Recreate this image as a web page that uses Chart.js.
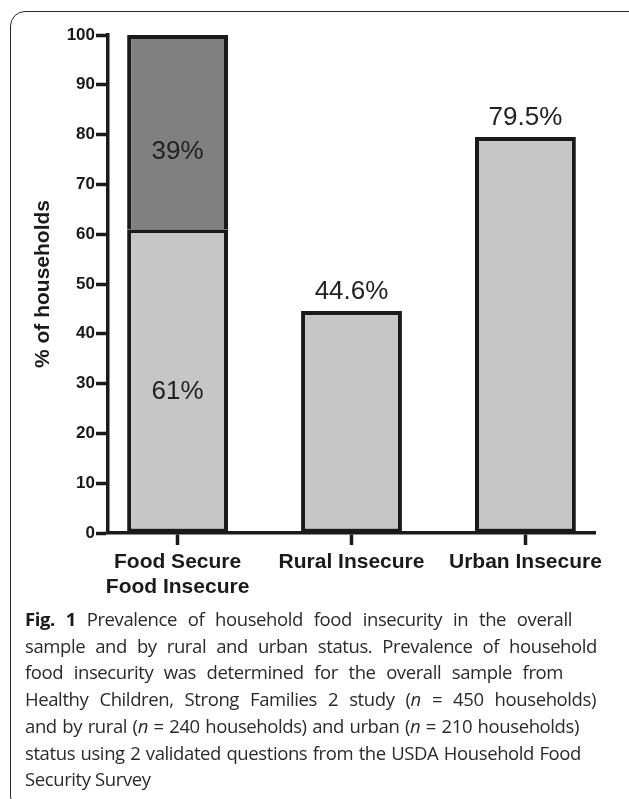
<!DOCTYPE html>
<html>
<head>
<meta charset="utf-8">
<script src="https://cdn.jsdelivr.net/npm/chart.js@4.4.1/dist/chart.umd.min.js"></script>
<style>
  html, body { margin: 0; padding: 0; background: #fff; overflow: hidden; }
  body { width: 629px; height: 799px; position: relative; }
  #frame {
    position: absolute; left: 10px; top: 11px; width: 640px; height: 800px;
    border: 1.5px solid #2a2a2a; border-radius: 15px; box-sizing: border-box;
  }
  #chart { position: absolute; left: 0; top: 0; }
  #caption {
    position: absolute; left: 25px; top: 606px;
    font-family: "Open Sans", "Noto Sans", sans-serif; font-size: 18.5px;
    letter-spacing: -0.4px;
    line-height: 26.7px; color: #2a2a2a;
  }
  #caption .line { white-space: nowrap; }
  #caption .line span.measure { display: inline-block; }
  #caption b { font-weight: 700; color: #1a1a1a; }
</style>
</head>
<body>
<div id="frame"></div>
<canvas id="chart" width="629" height="610"></canvas>
<div id="caption">
  <div class="line" data-right="572"><span class="measure"><b>Fig. 1</b> Prevalence of household food insecurity in the overall</span></div>
  <div class="line" data-right="597"><span class="measure">sample and by rural and urban status. Prevalence of household</span></div>
  <div class="line" data-right="563"><span class="measure">food insecurity was determined for the overall sample from</span></div>
  <div class="line" data-right="596"><span class="measure">Healthy Children, Strong Families 2 study (<i>n</i> = 450 households)</span></div>
  <div class="line" data-right="579"><span class="measure">and by rural (<i>n</i> = 240 households) and urban (<i>n</i> = 210 households)</span></div>
  <div class="line" data-right="581"><span class="measure">status using 2 validated questions from the USDA Household Food</span></div>
  <div class="line"><span class="measure">Security Survey</span></div>
</div>
<script>
// ---- 차트 데이터 ----
const categories = [["Food Secure", "Food Insecure"], "Rural Insecure", "Urban Insecure"];
const lightValues = [61, 44.6, 79.5];   // 아래쪽(연한 회색) 막대
const darkValues = [39, null, null];    // 위쪽(진한 회색) 누적 구간
const yTicks = [0, 10, 20, 30, 40, 50, 60, 70, 80, 90, 100];

const INK = '#1a1a1a';
const BOLD_FONT = '"Liberation Sans", Arial, Helvetica, sans-serif';

// 값 라벨 플러그인: 누적 막대는 구간 안, 나머지는 막대 위
const valueLabelPlugin = {
    id: 'valueLabels',
    afterDatasetsDraw(chart) {
        const ctx = chart.ctx;
        ctx.save();
        ctx.font = '26px ' + BOLD_FONT;
        ctx.fillStyle = '#222';
        ctx.textAlign = 'center';
        ctx.textBaseline = 'middle';
        chart.data.datasets.forEach((ds, di) => {
            const meta = chart.getDatasetMeta(di);
            meta.data.forEach((bar, i) => {
                const v = ds.data[i].y;
                if (v == null) return;
                const text = v + '%';
                if (darkValues[i] != null) {
                    const mid = (bar.y + bar.base) / 2;
                    ctx.fillText(text, bar.x, mid + (di === 1 ? 20 : 11));
                } else {
                    ctx.fillText(text, bar.x, bar.y - 19);
                }
            });
        });
        ctx.restore();
    }
};

const chartConfig = {
    type: 'bar',
    data: {
        datasets: [
            {
                label: 'Insecure',
                data: lightValues.map((v, i) => ({ x: i, y: v })),
                backgroundColor: '#c5c6c5',
                borderColor: INK,
                borderWidth: 4,
                borderSkipped: false
            },
            {
                label: 'Secure',
                data: darkValues.map((v, i) => ({ x: i, y: v })),
                backgroundColor: '#808080',
                borderColor: INK,
                borderWidth: 4,
                borderSkipped: 'bottom'
            }
        ]
    },
    options: {
        responsive: false,
        animation: false,
        barPercentage: 1,
        categoryPercentage: 0.58,
        layout: { padding: { left: 0, right: 34, top: 35, bottom: 0 } },
        plugins: {
            legend: { display: false },
            tooltip: { enabled: false }
        },
        scales: {
            x: {
                type: 'linear',
                min: -0.4,
                max: 2.4,
                stacked: true,
                offset: false,
                afterBuildTicks: (scale) => {
                    scale.ticks = categories.map((c, i) => ({ value: i }));
                },
                afterFit: (scale) => { scale.height = 610 - 533; },
                grid: {
                    offset: false,
                    drawOnChartArea: false,
                    drawTicks: true,
                    tickLength: 12,
                    tickWidth: 3.5,
                    tickColor: INK
                },
                border: { display: true, color: INK, width: 3.5 },
                ticks: {
                    autoSkip: false,
                    maxRotation: 0,
                    padding: 5,
                    color: INK,
                    font: { family: BOLD_FONT, size: 21, weight: 'bold', lineHeight: 1.19 },
                    callback: (value) => categories[value]
                }
            },
            y: {
                min: 0,
                max: 100,
                stacked: true,
                afterBuildTicks: (scale) => {
                    scale.ticks = yTicks.map(v => ({ value: v }));
                },
                afterFit: (scale) => { scale.width = 108; },
                grid: {
                    drawOnChartArea: false,
                    drawTicks: true,
                    tickLength: 12,
                    tickWidth: 3.5,
                    tickColor: INK
                },
                border: { display: true, color: INK, width: 3.5 },
                ticks: {
                    padding: 1,
                    color: INK,
                    font: { family: BOLD_FONT, size: 17, weight: 'bold' }
                },
                title: {
                    display: true,
                    text: '% of households',
                    color: INK,
                    padding: { top: 31, bottom: 0 },
                    font: { family: BOLD_FONT, size: 21, weight: 'bold' }
                }
            }
        }
    },
    plugins: [valueLabelPlugin]
};

new Chart(document.getElementById('chart'), chartConfig);

// 캡션 양쪽 정렬: 줄마다 단어 간격을 조절
document.querySelectorAll('#caption .line').forEach(line => {
    const right = parseFloat(line.dataset.right);
    if (!right) return;
    const span = line.querySelector('.measure');
    const natural = span.getBoundingClientRect().width;
    const spaces = (span.textContent.match(/ /g) || []).length;
    const target = right - 25;
    if (spaces > 0) span.style.wordSpacing = ((target - natural) / spaces) + 'px';
});
</script>
</body>
</html>
